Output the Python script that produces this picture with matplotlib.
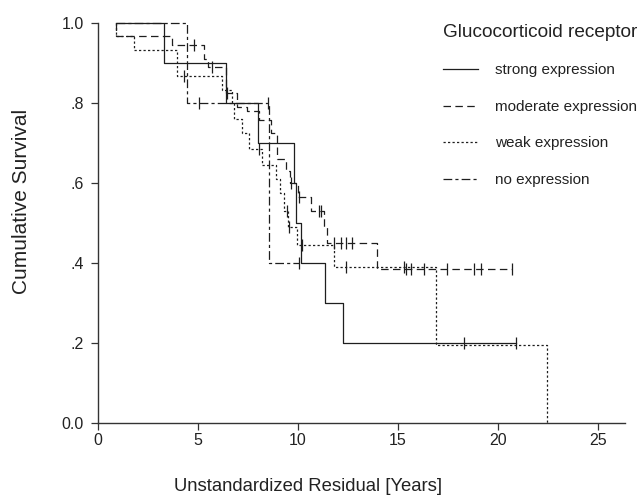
import numpy as np
import matplotlib
matplotlib.use("Agg")
import matplotlib.pyplot as plt

plt.rcParams['font.family'] = ['Liberation Sans', 'DejaVu Sans']

# Kaplan-Meier steps: event times and survival after each event
start_time = 0.9

strong_time = [3.3, 6.4, 8.0, 9.8, 9.9, 10.15, 11.35, 12.25]
strong_surv = [0.9, 0.8, 0.7, 0.6, 0.5, 0.4, 0.3, 0.2]
strong_cens = [18.3, 20.9]

moderate_time = [0.9, 3.7, 5.3, 5.5, 6.4, 6.95, 7.45, 8.05, 8.65, 8.95, 9.4, 9.6,
                 10.0, 10.65, 11.3, 11.45, 13.95]
moderate_surv = [0.967, 0.945, 0.91, 0.89, 0.825, 0.79, 0.78, 0.757, 0.725, 0.66,
                 0.63, 0.6, 0.565, 0.53, 0.49, 0.45, 0.385]
moderate_cens = [4.8, 5.7, 6.45, 9.65, 10.05, 11.05, 11.15, 11.8, 12.15, 12.4, 12.7,
                 15.4, 15.65, 16.3, 17.45, 18.8, 19.15, 20.7]

weak_time = [0.9, 1.8, 3.95, 6.2, 6.7, 6.8, 7.2, 7.55, 8.2, 8.9, 9.1, 9.3, 9.5,
             9.95, 11.8, 16.9, 22.45]
weak_surv = [0.967, 0.933, 0.867, 0.833, 0.8, 0.76, 0.725, 0.685, 0.645, 0.61,
             0.575, 0.53, 0.49, 0.445, 0.39, 0.195, 0.0]
weak_cens = [4.3, 8.05, 9.45, 9.55, 10.2, 12.4, 15.3]

none_time = [4.45, 8.55]
none_surv = [0.8, 0.4]
none_cens = [5.05, 8.5, 10.05]

labels = ["strong expression", "moderate expression", "weak expression", "no expression"]


def surv_at(times, surv, t):
    s = 1.0
    for ti, si in zip(times, surv):
        if ti <= t:
            s = si
    return s


fig = plt.figure(figsize=(6.43, 4.96), dpi=100)
ax = fig.add_axes([0.1524, 0.1472, 0.8196, 0.8064])

ink = '#1e1e1e'
styles = [
    dict(linestyle='-'),
    dict(linestyle=(0, (6, 3.5))),
    dict(linestyle=(0, (1.8, 1.8))),
    dict(linestyle=(0, (7, 2.5, 2.5, 2.5))),
]
groups = [
    (strong_time, strong_surv, strong_cens),
    (moderate_time, moderate_surv, moderate_cens),
    (weak_time, weak_surv, weak_cens),
    (none_time, none_surv, none_cens),
]

handles = []
for (times, surv, cens), st, lab in zip(groups, styles, labels):
    end = max([times[-1]] + cens)
    xs = [start_time] + times + [end]
    ys = [1.0] + surv + [surv[-1]]
    h, = ax.step(xs, ys, where='post', color=ink, lw=0.9, clip_on=False, label=lab, **st)
    handles.append(h)
    cy = [surv_at(times, surv, c) for c in cens]
    ax.plot(cens, cy, linestyle='none', marker='|', markersize=8, mew=0.9,
            color=ink, clip_on=False)

ax.set_xlim(0, 26.35)
ax.set_ylim(0, 1.0)
ax.set_xticks([0, 5, 10, 15, 20, 25])
ax.set_yticks([0, 0.2, 0.4, 0.6, 0.8, 1.0])
ax.set_yticklabels(["0.0", ".2", ".4", ".6", ".8", "1.0"])
for side in ['top', 'right']:
    ax.spines[side].set_visible(False)
for side in ['left', 'bottom']:
    ax.spines[side].set_color('#333333')
    ax.spines[side].set_linewidth(1.0)
ax.tick_params(direction='out', length=5, width=0.9, colors='#333333',
               labelsize=11.5, labelcolor='#222222')
ax.tick_params(axis='x', pad=2)
ax.tick_params(axis='y', pad=5)

ax.set_xlabel("Unstandardized Residual [Years]", fontsize=13.3, color='#222222', labelpad=22)
ax.set_ylabel("Cumulative Survival", fontsize=15, color='#222222', labelpad=22)
ax.xaxis.label.set_x(0.398)
ax.yaxis.label.set_y(0.555)

leg = ax.legend(handles=handles, labels=labels, title="Glucocorticoid receptor",
                loc='upper left', bbox_to_anchor=(0.6547, 0.9975), frameon=False,
                fontsize=11, title_fontsize=13.7, alignment='left',
                handlelength=2.3, handletextpad=1.1, labelspacing=1.47,
                borderpad=0, borderaxespad=0)
for t in leg.get_texts():
    t.set_color('#222222')
leg.get_title().set_color('#222222')

fig.savefig("out.png", dpi=100)
